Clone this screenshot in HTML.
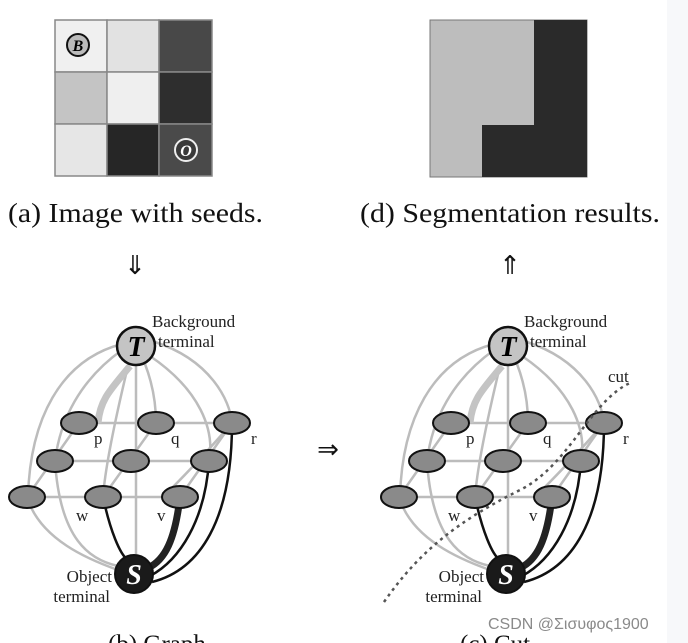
<!DOCTYPE html>
<html><head><style>body{margin:0;background:#fff}svg{display:block}</style></head><body>
<svg width="688" height="643" viewBox="0 0 688 643" xmlns="http://www.w3.org/2000/svg">
<rect x="0" y="0" width="688" height="643" fill="#fff"/>
<rect x="667" y="0" width="21" height="643" fill="#f7f8fa"/>
<g stroke="#888" stroke-width="1.5">
<rect x="55" y="20" width="52" height="52" fill="#f0f0f0"/>
<rect x="107" y="20" width="52" height="52" fill="#e2e2e2"/>
<rect x="159" y="20" width="53" height="52" fill="#484848"/>
<rect x="55" y="72" width="52" height="52" fill="#c4c4c4"/>
<rect x="107" y="72" width="52" height="52" fill="#efefef"/>
<rect x="159" y="72" width="53" height="52" fill="#2e2e2e"/>
<rect x="55" y="124" width="52" height="52" fill="#e6e6e6"/>
<rect x="107" y="124" width="52" height="52" fill="#262626"/>
<rect x="159" y="124" width="53" height="52" fill="#4a4a4a"/>
</g>
<circle cx="78" cy="45" r="11" fill="#bbb" stroke="#111" stroke-width="2"/>
<text x="78" y="51" font-family="Liberation Serif" font-style="italic" font-weight="bold" font-size="16" text-anchor="middle">B</text>
<circle cx="186" cy="150" r="11" fill="#3a3a3a" stroke="#eee" stroke-width="2"/>
<text x="186" y="156" font-family="Liberation Serif" font-style="italic" font-weight="bold" font-size="16" text-anchor="middle" fill="#fff">O</text>
<rect x="430" y="20" width="157" height="157" fill="#bdbdbd" stroke="#777"/>
<path d="M534 20H587V177H482V125H534Z" fill="#2a2a2a"/>
<g font-family="Liberation Serif" fill="#111">
<text x="8" y="222" font-size="27" textLength="255" lengthAdjust="spacingAndGlyphs">(a) Image with seeds.</text>
<text x="360" y="222" font-size="27" textLength="300" lengthAdjust="spacingAndGlyphs">(d) Segmentation results.</text>
<text x="135" y="274" font-size="26" text-anchor="middle">⇓</text>
<text x="510" y="274" font-size="26" text-anchor="middle">⇑</text>
<text x="328" y="458" font-size="26" text-anchor="middle">⇒</text>
<text x="108" y="652" font-size="25">(b) Graph</text>
<text x="460" y="652" font-size="25">(c) Cut</text>
</g>
<defs>
<g id="graph" font-family="Liberation Serif">
<g fill="none" stroke="#bcbcbc" stroke-width="2.5">
<path d="M122 344 C60 360 30 420 28 497"/>
<path d="M122 350 C80 380 60 420 55 461"/>
<path d="M136 366 L136 574"/>
<path d="M145 364 C155 390 156 410 156 423"/>
<path d="M128 366 C115 420 105 470 103 497"/>
<path d="M150 356 C200 390 215 430 209 461"/>
<path d="M155 342 C210 360 230 400 232 423"/>
<path d="M79 423H232M55 461H209M27 497H180"/>
<path d="M79 423L27 497M156 423L103 497M232 423L180 497"/>
<path d="M27 497 C40 540 90 560 118 570"/>
<path d="M55 461 C60 540 90 560 118 566"/>
<path d="M232 423 C200 460 180 480 170 490"/>
</g>
<path d="M130 366 C110 390 100 400 98 423" fill="none" stroke="#c4c4c4" stroke-width="7"/>
<g fill="none" stroke="#111" stroke-width="2.5">
<path d="M103 497 C110 530 120 555 128 560"/>
<path d="M209 461 C205 520 180 560 150 576"/>
<path d="M232 423 C232 520 200 570 152 582"/>
</g>
<path d="M180 497 C175 540 165 560 148 568" fill="none" stroke="#222" stroke-width="7"/>
<g fill="#8a8a8a" stroke="#111" stroke-width="2">
<ellipse cx="79" cy="423" rx="18" ry="11"/><ellipse cx="156" cy="423" rx="18" ry="11"/><ellipse cx="232" cy="423" rx="18" ry="11"/>
<ellipse cx="55" cy="461" rx="18" ry="11"/><ellipse cx="131" cy="461" rx="18" ry="11"/><ellipse cx="209" cy="461" rx="18" ry="11"/>
<ellipse cx="27" cy="497" rx="18" ry="11"/><ellipse cx="103" cy="497" rx="18" ry="11"/><ellipse cx="180" cy="497" rx="18" ry="11"/>
</g>
<circle cx="136" cy="346" r="19" fill="#c4c4c4" stroke="#111" stroke-width="2.5"/>
<text x="136" y="356" font-size="28" font-style="italic" font-weight="bold" text-anchor="middle">T</text>
<circle cx="134" cy="574" r="19" fill="#1a1a1a" stroke="#111" stroke-width="2"/>
<text x="134" y="584" font-size="28" font-style="italic" font-weight="bold" text-anchor="middle" fill="#fff">S</text>
<g font-size="17" fill="#222">
<text x="152" y="327">Background</text>
<text x="158" y="347">terminal</text>
<text x="112" y="582" text-anchor="end">Object</text>
<text x="110" y="602" text-anchor="end">terminal</text>
<text x="94" y="444">p</text><text x="171" y="444">q</text><text x="251" y="444">r</text>
<text x="76" y="521">w</text><text x="157" y="521">v</text>
</g>
</g>
</defs>
<use href="#graph"/>
<use href="#graph" transform="translate(372,0)"/>
<path d="M384 602 C420 550 460 520 520 490 C570 465 590 400 632 382" fill="none" stroke="#555" stroke-width="2.5" stroke-dasharray="3,4"/>
<text x="608" y="382" font-family="Liberation Serif" font-size="17" fill="#222">cut</text>
<text x="488" y="629" font-family="Liberation Sans" font-size="16" fill="#8a8a8a">CSDN @Σισυφος1900</text>
</svg>
</body></html>
